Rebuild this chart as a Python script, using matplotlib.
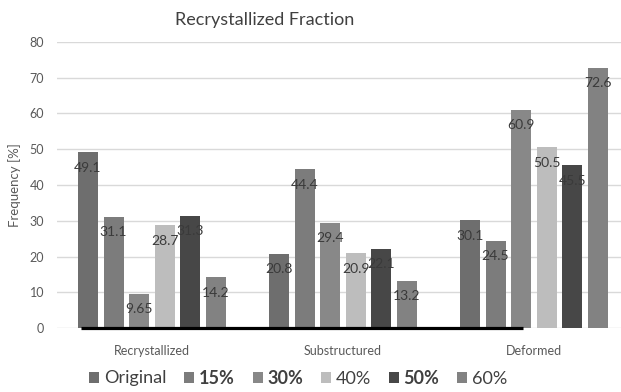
import matplotlib
matplotlib.use("Agg")
import matplotlib.pyplot as plt
import numpy as np

plt.rcParams["font.family"] = ["Lato", "DejaVu Sans"]

categories = ["Recrystallized", "Substructured", "Deformed"]
series_names = ["Original", "15%", "30%", "40%", "50%", "60%"]
original = [49.1, 20.8, 30.1]
pct15 = [31.1, 44.4, 24.5]
pct30 = [9.65, 29.4, 60.9]
pct40 = [28.7, 20.9, 50.5]
pct50 = [31.3, 22.1, 45.5]
pct60 = [14.2, 13.2, 72.6]
y_ticks = [0, 10, 20, 30, 40, 50, 60, 70, 80]

series_values = [original, pct15, pct30, pct40, pct50, pct60]
colors = ["#6e6e6e", "#7c7c7c", "#888888", "#bdbdbd", "#474747", "#828282"]
bold_entries = {"15%", "30%", "50%"}

fig = plt.figure(figsize=(6.21, 3.92), dpi=100)
W, H = 621, 392
left_px, right_px = 56.5, 629.5
top_px, bottom_px = 41.7, 328.3
ax = fig.add_axes([left_px / W, 1 - bottom_px / H,
                   (right_px - left_px) / W, (bottom_px - top_px) / H])

x = np.arange(len(categories))
step = 0.134
width = 0.105
n = len(series_names)
bars_all = []
for i, (name, vals, c) in enumerate(zip(series_names, series_values, colors)):
    pos = x + (i - (n - 1) / 2) * step
    bars = ax.bar(pos, vals, width=width, color=c, label=name, zorder=3)
    bars_all.append(bars)
    for xb, v in zip(pos, vals):
        ax.annotate(f"{v:g}", (xb, v), xytext=(0, -11), textcoords="offset points",
                    ha="center", va="center", fontsize=10, color="#3a3a3a", zorder=4)

# thick underline along the baseline
line_start = x[0] - (n - 1) / 2 * step - width / 2 + 0.015
line_end = x[2] - 0.5 * step + 0.01
ax.plot([line_start, line_end], [0, 0], color="black", lw=2.3,
        solid_capstyle="butt", zorder=5, clip_on=False)

ax.set_xlim(-0.5, 2.5)
ax.set_ylim(0, 80)
ax.set_yticks(y_ticks)
ax.set_xticks(x)
ax.set_xticklabels(categories)
ax.tick_params(axis="both", length=0, colors="#595959", labelsize=9)
ax.tick_params(axis="y", pad=9)
ax.tick_params(axis="x", pad=12)
ax.grid(axis="y", color="#d9d9d9", lw=1, zorder=0)
for s in ax.spines.values():
    s.set_visible(False)

ax.set_ylabel("Frequency [%]", color="#595959", fontsize=9.5, labelpad=6)

fig.text(265 / W, 1 - 20 / H, "Recrystallized Fraction", ha="center", va="center",
         fontsize=13, color="#404040")

leg = fig.legend(handles=[b for b in bars_all], labels=series_names,
                 loc="center", bbox_to_anchor=(298 / W, 1 - 378 / H), ncol=6,
                 frameon=False, fontsize=13, handlelength=0.55, handleheight=0.55,
                 handletextpad=0.25, columnspacing=1.0, borderaxespad=0)
for t in leg.get_texts():
    t.set_color("#404040")
    if t.get_text() in bold_entries:
        t.set_fontweight("bold")

fig.savefig("out.png", dpi=100, facecolor="white")
